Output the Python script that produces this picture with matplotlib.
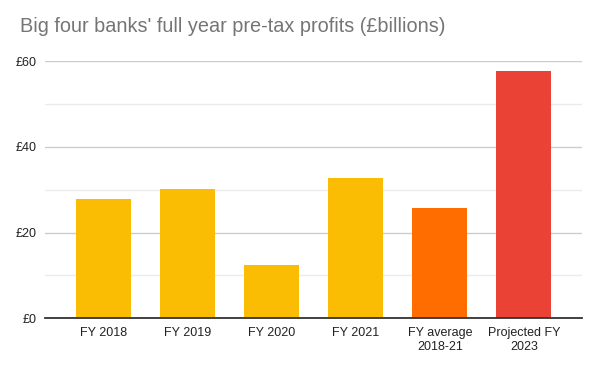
import numpy as np
import matplotlib
matplotlib.use("Agg")
import matplotlib.pyplot as plt
from matplotlib.ticker import MultipleLocator

categories = ["FY 2018", "FY 2019", "FY 2020", "FY 2021", "FY average\n2018-21", "Projected FY\n2023"]
profits = [27.8, 30.2, 12.4, 32.8, 25.7, 57.8]
colors = ["#FBBC04", "#FBBC04", "#FBBC04", "#FBBC04", "#FF6D01", "#EA4335"]
y_ticks = [0, 20, 40, 60]
y_labels = ["£0", "£20", "£40", "£60"]

plt.rcParams["font.family"] = ["Liberation Sans", "DejaVu Sans"]

fig = plt.figure(figsize=(6, 3.71), dpi=100)
ax = fig.add_axes([0.075, 0.142, 0.895, 0.693])

x = np.arange(len(categories))
ax.bar(x, profits, width=0.655, color=colors, zorder=3)

ax.set_xlim(-0.69, 5.69)
ax.set_ylim(0, 60)
ax.set_yticks(y_ticks)
ax.set_yticklabels(y_labels)
ax.yaxis.set_minor_locator(MultipleLocator(10))
ax.set_xticks(x)
ax.set_xticklabels(categories, linespacing=1.3)

ax.grid(axis="y", which="major", color="#cccccc", linewidth=1, zorder=0)
ax.grid(axis="y", which="minor", color="#ebebeb", linewidth=1, zorder=0)
for s in ["top", "right", "left"]:
    ax.spines[s].set_visible(False)
ax.spines["bottom"].set_color("#333333")
ax.spines["bottom"].set_linewidth(1.3)
ax.spines["bottom"].set_zorder(4)
ax.tick_params(axis="both", which="both", length=0, labelsize=9, colors="#222222")
ax.tick_params(axis="x", pad=6)
ax.tick_params(axis="y", pad=6)

fig.text(0.034, 0.913, "Big four banks' full year pre-tax profits (£billions)",
         fontsize=14.3, color="#757575")

plt.savefig("out.png", dpi=100)
plt.close()
